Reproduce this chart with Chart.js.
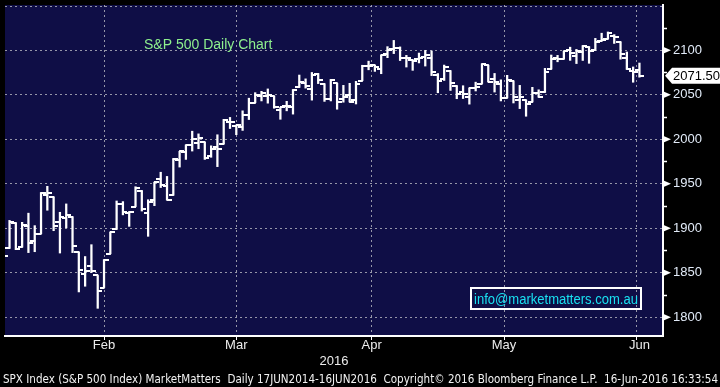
<!DOCTYPE html>
<html>
<head>
<meta charset="utf-8">
<script src="https://cdn.jsdelivr.net/npm/chart.js@4"></script>
<style>
  html, body { margin: 0; padding: 0; background: #000; }
</style>
</head>
<body>
<canvas id="spxChart" width="720" height="387"></canvas>
<script>
// S&P 500 daily OHLC, 21 Jan 2016 - 15 Jun 2016 (one entry per trading day)
const dates = [
  '2016-01-21','2016-01-22','2016-01-25','2016-01-26','2016-01-27','2016-01-28','2016-01-29',
  '2016-02-01','2016-02-02','2016-02-03','2016-02-04','2016-02-05','2016-02-08','2016-02-09','2016-02-10',
  '2016-02-11','2016-02-12','2016-02-16','2016-02-17','2016-02-18','2016-02-19','2016-02-22','2016-02-23',
  '2016-02-24','2016-02-25','2016-02-26','2016-02-29',
  '2016-03-01','2016-03-02','2016-03-03','2016-03-04','2016-03-07','2016-03-08','2016-03-09','2016-03-10',
  '2016-03-11','2016-03-14','2016-03-15','2016-03-16','2016-03-17','2016-03-18','2016-03-21','2016-03-22',
  '2016-03-23','2016-03-24','2016-03-28','2016-03-29','2016-03-30','2016-03-31',
  '2016-04-01','2016-04-04','2016-04-05','2016-04-06','2016-04-07','2016-04-08','2016-04-11','2016-04-12',
  '2016-04-13','2016-04-14','2016-04-15','2016-04-18','2016-04-19','2016-04-20','2016-04-21','2016-04-22',
  '2016-04-25','2016-04-26','2016-04-27','2016-04-28','2016-04-29',
  '2016-05-02','2016-05-03','2016-05-04','2016-05-05','2016-05-06','2016-05-09','2016-05-10','2016-05-11',
  '2016-05-12','2016-05-13','2016-05-16','2016-05-17','2016-05-18','2016-05-19','2016-05-20','2016-05-23',
  '2016-05-24','2016-05-25','2016-05-26','2016-05-27','2016-05-31',
  '2016-06-01','2016-06-02','2016-06-03','2016-06-06','2016-06-07','2016-06-08','2016-06-09','2016-06-10',
  '2016-06-13','2016-06-14','2016-06-15'
];
const opens = [
  1861.5,1877.4,1906.3,1878.8,1902.5,1885.2,1894.0,
  1936.9,1935.3,1907.1,1911.7,1913.1,1873.3,1848.5,1857.1,1847.0,1833.4,1871.4,1898.8,1927.6,1916.7,
  1924.4,1942.4,1917.6,1931.9,1955.0,1947.1,
  1937.1,1976.6,1985.6,1994.0,1996.1,1996.9,1981.4,1991.0,1994.7,2019.3,2015.3,2014.2,2026.9,2041.2,
  2048.6,2048.6,2048.6,2032.5,2037.9,2035.8,2058.3,2063.8,
  2056.6,2073.2,2062.5,2045.6,2063.0,2045.5,2050.2,2043.7,2065.9,2082.9,2083.1,2078.8,2096.1,2101.5,
  2102.1,2091.5,2089.4,2089.8,2092.6,2090.9,2071.8,
  2067.2,2077.2,2060.3,2053.0,2047.8,2057.6,2062.6,2083.3,2067.2,2062.5,2046.5,2065.0,2044.4,2044.2,
  2041.9,2052.2,2052.7,2078.9,2091.4,2090.1,2100.1,
  2093.9,2097.7,2104.1,2100.8,2110.2,2112.7,2115.7,2109.6,2091.8,2076.7,2077.6
];
const highs = [
  1889.9,1908.9,1906.3,1906.7,1917.0,1903.0,1940.2,
  1947.2,1935.3,1918.0,1927.4,1913.1,1873.3,1868.3,1881.6,1847.0,1864.8,1895.8,1930.7,1930.0,1918.8,
  1946.7,1942.4,1932.1,1951.8,1963.0,1958.3,
  1978.4,1986.5,1993.7,2009.1,2006.1,1996.9,1992.7,2005.1,2022.4,2024.6,2015.9,2032.0,2046.2,2052.4,
  2053.9,2056.6,2048.6,2036.0,2042.7,2055.9,2072.2,2067.9,
  2075.1,2074.0,2062.5,2067.3,2063.0,2060.6,2062.9,2065.1,2083.2,2087.8,2083.2,2094.7,2104.1,2111.1,
  2103.8,2094.3,2089.4,2096.9,2099.9,2099.3,2073.9,
  2083.4,2077.2,2060.3,2060.2,2057.7,2064.2,2084.9,2083.3,2074.0,2066.8,2071.9,2065.7,2060.6,2044.2,
  2058.4,2055.6,2079.7,2094.7,2094.3,2099.1,2103.5,
  2101.0,2105.3,2104.1,2113.4,2119.2,2120.6,2117.6,2109.6,2098.1,2081.3,2085.7
];
const lows = [
  1849.0,1877.4,1876.0,1878.8,1872.7,1873.7,1894.0,
  1920.3,1897.3,1872.2,1900.5,1872.7,1828.5,1834.9,1850.3,1810.1,1833.4,1871.4,1898.8,1915.1,1902.2,
  1924.4,1919.4,1891.0,1925.4,1945.8,1931.8,
  1937.1,1968.8,1977.4,1986.8,1989.4,1977.4,1979.8,1969.3,1994.7,2012.1,2005.2,2010.0,2022.2,2041.2,
  2043.1,2040.6,2034.9,2022.5,2032.0,2028.3,2058.3,2057.5,
  2044.0,2062.6,2042.6,2043.1,2033.8,2041.7,2041.9,2039.7,2065.9,2078.1,2076.3,2073.7,2091.7,2096.3,
  2088.5,2081.2,2077.5,2085.8,2082.3,2071.6,2052.3,
  2066.1,2054.9,2045.6,2045.8,2039.5,2054.3,2062.6,2064.5,2053.1,2043.1,2046.5,2040.8,2034.5,2025.9,
  2041.9,2047.3,2052.7,2078.9,2087.1,2090.1,2088.7,
  2085.1,2088.6,2085.4,2100.8,2110.2,2112.7,2107.7,2090.0,2078.5,2064.1,2069.8
];
const closes = [
  1869.0,1906.9,1877.1,1903.6,1883.0,1893.4,1940.2,
  1939.4,1903.0,1912.5,1915.5,1880.1,1853.4,1852.2,1851.9,1829.1,1864.8,1895.6,1926.8,1917.8,1917.8,
  1945.5,1921.3,1929.8,1951.7,1948.1,1932.2,
  1978.4,1986.5,1993.4,2000.0,2001.8,1979.3,1989.3,1989.6,2022.2,2019.6,2015.9,2027.2,2040.6,2049.6,
  2051.6,2049.8,2036.7,2035.9,2037.1,2055.0,2064.0,2059.7,
  2072.8,2066.1,2045.2,2066.7,2041.9,2047.6,2042.0,2061.7,2082.4,2082.8,2080.7,2094.3,2100.8,2102.4,
  2091.5,2091.6,2087.8,2091.7,2095.2,2075.8,2065.3,
  2081.4,2063.4,2051.1,2050.6,2057.1,2058.7,2084.4,2064.5,2064.1,2046.6,2066.7,2047.2,2047.6,2040.0,
  2052.3,2048.0,2076.1,2090.5,2090.1,2099.1,2097.0,
  2099.3,2105.3,2099.1,2109.4,2112.1,2119.1,2115.5,2096.1,2079.1,2075.3,2071.5
];
const monthNames = ['Feb', 'Mar', 'Apr', 'May', 'Jun'];
const yearLabel = '2016';
const lastPrice = 2071.50;
const yTicks = [1800, 1825, 1850, 1875, 1900, 1925, 1950, 1975, 2000, 2025, 2050, 2075, 2100, 2125];

const xMin = 0.28, xMax = 104.74;
const yMin = 1779, yMax = 2150.9;

// month ends (last trading day of each month) -> vertical grid lines
const monthEnds = [];
for (let i = 0; i < dates.length - 1; i++) {
  if (dates[i].slice(5, 7) !== dates[i + 1].slice(5, 7)) monthEnds.push(i);
}
// month label goes in the middle of each month
const monthMids = monthEnds.map((e, k) => {
  const next = k + 1 < monthEnds.length ? monthEnds[k + 1] : e + 22;
  return (e + next) / 2;
});

// little images for the open (left) and close (right) ticks
function tickImage(side) {
  const c = document.createElement('canvas');
  c.width = 9; c.height = 2;
  const g = c.getContext('2d');
  g.fillStyle = '#ffffff';
  if (side === 'left') g.fillRect(0, 0, 5, 2);
  else g.fillRect(4, 0, 5, 2);
  return c;
}

// stop axes from padding the plot area for their end labels
function noPad(s) {
  s.paddingTop = 0; s.paddingBottom = 0; s.paddingLeft = 0; s.paddingRight = 0;
}

const navy = 'rgb(15,14,70)';
const gridGray = 'rgba(165,165,180,0.9)';
const labelFont = { family: 'Liberation Sans, Arial, sans-serif', size: 13 };

const bgPlugin = {
  id: 'bg',
  beforeDraw(chart) {
    const { ctx, chartArea: a } = chart;
    ctx.save();
    ctx.fillStyle = '#000';
    ctx.fillRect(0, 0, chart.width, chart.height);
    ctx.fillStyle = navy;
    ctx.fillRect(a.left, a.top, a.right - a.left, a.bottom - a.top);
    // dotted line along the top edge (2150)
    ctx.strokeStyle = gridGray;
    ctx.lineWidth = 1;
    ctx.setLineDash([2, 3]);
    ctx.beginPath();
    ctx.moveTo(a.left, a.top + 1.5);
    ctx.lineTo(a.right, a.top + 1.5);
    ctx.stroke();
    ctx.restore();
  },
  afterDraw(chart) {
    const { ctx, chartArea: a } = chart;
    const y = chart.scales.y;
    ctx.save();
    // triangle markers on the 50s
    ctx.fillStyle = '#fff';
    yTicks.forEach(v => {
      if (v % 50 !== 0) return;
      const py = y.getPixelForValue(v);
      ctx.beginPath();
      ctx.moveTo(a.right, py - 3.5);
      ctx.lineTo(a.right + 8, py);
      ctx.lineTo(a.right, py + 3.5);
      ctx.closePath();
      ctx.fill();
    });
    // last price tag
    const lp = y.getPixelForValue(lastPrice);
    ctx.beginPath();
    ctx.moveTo(a.right + 2, lp);
    ctx.lineTo(a.right + 9, lp - 8);
    ctx.lineTo(chart.width, lp - 8);
    ctx.lineTo(chart.width, lp + 8);
    ctx.lineTo(a.right + 9, lp + 8);
    ctx.closePath();
    ctx.fill();
    ctx.fillStyle = '#000';
    ctx.font = '13px Liberation Sans, Arial, sans-serif';
    ctx.textBaseline = 'middle';
    ctx.fillText(lastPrice.toFixed(2), a.right + 10, lp + 1);

    // chart caption
    ctx.fillStyle = '#8ef08e';
    ctx.font = '14px Liberation Sans, Arial, sans-serif';
    ctx.textBaseline = 'alphabetic';
    ctx.fillText('S&P 500 Daily Chart', 144, 49);

    // contact box
    ctx.strokeStyle = '#fff';
    ctx.lineWidth = 2;
    ctx.strokeRect(471, 288, 170, 21);
    ctx.fillStyle = '#19e0f0';
    ctx.font = '14px Liberation Sans, Arial, sans-serif';
    ctx.fillText('info@marketmatters.com.au', 474, 304, 164);

    // footer
    ctx.fillStyle = '#f2f2f2';
    ctx.font = '12px DejaVu Sans, Verdana, sans-serif';
    ctx.fillText('SPX Index (S&P 500 Index) MarketMatters  Daily 17JUN2014-16JUN2016  Copyright\u00A9 2016 Bloomberg Finance L.P.  16-Jun-2016 16:33:54', 3, 383, 715);
    ctx.restore();
  }
};

const ohlcBars = dates.map((d, i) => ({ x: i, y: [lows[i], highs[i]] }));
const openPts = dates.map((d, i) => ({ x: i, y: opens[i] }));
const closePts = dates.map((d, i) => ({ x: i, y: closes[i] }));

const config = {
  type: 'bar',
  data: {
    datasets: [
      {
        label: 'High-Low',
        data: ohlcBars,
        backgroundColor: '#ffffff',
        borderWidth: 0,
        barThickness: 1.6,
        grouped: false
      },
      {
        type: 'scatter',
        label: 'Open',
        data: openPts,
        pointStyle: tickImage('left'),
        showLine: false
      },
      {
        type: 'scatter',
        label: 'Close',
        data: closePts,
        pointStyle: tickImage('right'),
        showLine: false
      }
    ]
  },
  options: {
    responsive: false,
    animation: false,
    events: [],
    layout: { padding: { left: 0, right: 0, top: 0, bottom: 17 } },
    plugins: {
      legend: { display: false },
      tooltip: { enabled: false }
    },
    scales: {
      x: {
        type: 'linear',
        position: 'bottom',
        min: xMin, max: xMax,
        offset: false,
        afterBuildTicks: s => { s.ticks = monthEnds.map(v => ({ value: v })); },
        afterFit: s => { s.height = 2; noPad(s); },
        grid: {
          color: gridGray,
          lineWidth: 1,
          tickLength: 4,
          tickColor: '#fff',
          tickBorderDash: []
        },
        border: { display: true, color: '#fff', width: 2, dash: [2, 3] },
        ticks: { display: false }
      },
      xMonths: {
        type: 'linear',
        position: 'bottom',
        min: xMin, max: xMax,
        offset: false,
        afterBuildTicks: s => { s.ticks = monthMids.map(v => ({ value: v })); },
        afterFit: s => { s.height = 16; noPad(s); },
        grid: { display: false, drawTicks: false },
        border: { display: false },
        ticks: {
          color: '#ececec',
          font: labelFont,
          padding: 0,
          autoSkip: false,
          maxRotation: 0,
          callback: (v, i) => monthNames[i]
        }
      },
      xYear: {
        type: 'linear',
        position: 'bottom',
        min: xMin, max: xMax,
        offset: false,
        afterBuildTicks: s => { s.ticks = [{ value: (xMin + xMax) / 2 }]; },
        afterFit: s => { s.height = 16; noPad(s); },
        grid: { display: false, drawTicks: false },
        border: { display: false },
        ticks: {
          color: '#ececec',
          font: labelFont,
          padding: 0,
          autoSkip: false,
          maxRotation: 0,
          callback: () => yearLabel
        }
      },
      y: {
        type: 'linear',
        position: 'right',
        min: yMin, max: yMax,
        afterBuildTicks: s => { s.ticks = yTicks.map(v => ({ value: v })); },
        afterFit: s => { s.width = 57; noPad(s); },
        grid: {
          color: ctx => (ctx.tick && ctx.tick.value % 50 === 0) ? gridGray : 'rgba(0,0,0,0)',
          lineWidth: 1,
          tickLength: 4,
          tickColor: '#fff',
          tickWidth: 1.5,
          tickBorderDash: []
        },
        border: { display: true, color: '#fff', width: 2, dash: [2, 3] },
        ticks: {
          color: '#e2ebf8',
          font: labelFont,
          padding: 6,
          autoSkip: false,
          callback: v => (v % 50 === 0) ? String(v) : ''
        }
      }
    }
  },
  plugins: [bgPlugin]
};

const ctx = document.getElementById('spxChart').getContext('2d');
const spxChart = new Chart(ctx, config);
</script>
</body>
</html>
